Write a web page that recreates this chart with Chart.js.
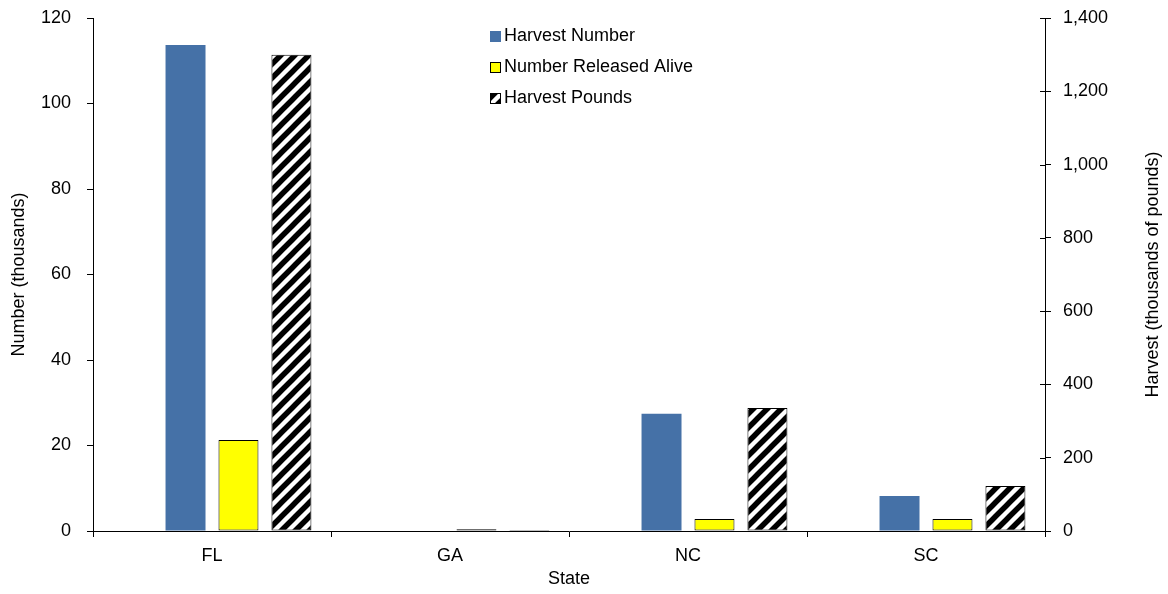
<!DOCTYPE html>
<html>
<head>
<meta charset="utf-8">
<script src="https://cdn.jsdelivr.net/npm/chart.js@4"></script>
<style>
  html, body { margin: 0; padding: 0; background: #fff; }
  #wrap { width: 1168px; height: 594px; }
</style>
</head>
<body>
<div id="wrap"><canvas id="myChart" width="1168" height="594"></canvas></div>
<script>
const states = ['FL', 'GA', 'NC', 'SC'];
const harvestNumber = [113.7, 0, 27.4, 8.2];      // thousands
const releasedAlive = [21.3, 0.4, 2.8, 2.8];      // thousands
const harvestPounds = [1300, 3, 336, 123];        // thousands of pounds
const leftTicks = [0, 20, 40, 60, 80, 100, 120];
const rightTicks = [0, 200, 400, 600, 800, 1000, 1200, 1400];
const rightTitle = 'Harvest (thousands of pounds)';

const FONT = "'Liberation Sans', Arial, sans-serif";
Chart.defaults.font.family = FONT;
Chart.defaults.font.size = 18;
Chart.defaults.color = '#000';

// diagonal hatch for the pounds series
function makeHatch() {
  const s = 14;
  const c = document.createElement('canvas');
  c.width = s; c.height = s;
  const g = c.getContext('2d');
  g.fillStyle = '#fff';
  g.fillRect(0, 0, s, s);
  g.strokeStyle = '#000';
  g.lineWidth = 5.5;
  g.beginPath();
  g.moveTo(-3, s + 3); g.lineTo(s + 3, -3);
  g.moveTo(-3, 3); g.lineTo(3, -3);
  g.moveTo(s - 3, s + 3); g.lineTo(s + 3, s - 3);
  g.stroke();
  return g.createPattern(c, 'repeat');
}
const hatch = makeHatch();

// legend list inside the plot, right-axis title reading upwards, inner ticks on right axis
const extrasPlugin = {
  id: 'extras',
  afterDraw(chart) {
    const ctx = chart.ctx;
    const rows = chart.data.datasets.filter(d => d.label);
    ctx.save();
    ctx.font = '18px ' + FONT;
    ctx.textBaseline = 'middle';
    rows.forEach((d, i) => {
      const y = 36 + i * 31;
      ctx.fillStyle = d.backgroundColor;
      ctx.fillRect(490, y - 5, 11, 11);
      if (d.borderWidth) {
        ctx.strokeStyle = '#000';
        ctx.lineWidth = 1;
        ctx.strokeRect(490.5, y - 4.5, 10, 10);
      }
      ctx.fillStyle = '#000';
      ctx.fillText(d.label, 504, y);
    });

    const y1 = chart.scales.y1;
    ctx.strokeStyle = '#000';
    ctx.lineWidth = 1;
    ctx.beginPath();
    rightTicks.forEach(v => {
      const py = Math.round(y1.getPixelForValue(v)) + 0.5;
      ctx.moveTo(y1.left - 5, py);
      ctx.lineTo(y1.left, py);
    });
    ctx.stroke();

    const area = chart.chartArea;
    ctx.translate(1153, (area.top + area.bottom) / 2);
    ctx.rotate(-Math.PI / 2);
    ctx.textAlign = 'center';
    ctx.fillText(rightTitle, 0, 0);
    ctx.restore();
  }
};

function fixVertical(width) {
  return scale => {
    scale.width = width;
    scale.paddingTop = 0;
    scale.paddingBottom = 0;
  };
}

const ctx = document.getElementById('myChart').getContext('2d');
const myChart = new Chart(ctx, {
  type: 'bar',
  data: {
    labels: states,
    datasets: [
      { label: '', data: states.map(() => null), yAxisID: 'y' },
      {
        label: 'Harvest Number',
        data: harvestNumber,
        backgroundColor: '#4571A7',
        borderWidth: 0,
        yAxisID: 'y'
      },
      {
        label: 'Number Released Alive',
        data: releasedAlive,
        backgroundColor: '#FFFF00',
        borderColor: '#000',
        borderWidth: 1,
        borderSkipped: false,
        yAxisID: 'y'
      },
      {
        label: 'Harvest Pounds',
        data: harvestPounds,
        backgroundColor: hatch,
        borderColor: '#000',
        borderWidth: 1,
        borderSkipped: false,
        yAxisID: 'y1'
      }
    ]
  },
  options: {
    responsive: false,
    animation: false,
    categoryPercentage: 0.89,
    barPercentage: 0.755,
    layout: { autoPadding: false, padding: { top: 18, left: 0, right: 0, bottom: 0 } },
    plugins: {
      legend: { display: false },
      tooltip: { enabled: false }
    },
    scales: {
      x: {
        grid: { drawOnChartArea: false, color: '#000', tickLength: 6, offset: true },
        border: { color: '#000', width: 1 },
        ticks: { padding: 8 },
        title: { display: true, text: 'State', font: { size: 18 }, padding: { top: 0, bottom: 4 } },
        afterFit(scale) { scale.height = 63; scale.paddingLeft = 0; scale.paddingRight = 0; }
      },
      y: {
        position: 'left',
        min: 0, max: 120,
        afterBuildTicks(scale) { scale.ticks = leftTicks.map(v => ({ value: v })); },
        grid: { drawOnChartArea: false, color: '#000', tickLength: 6 },
        border: { color: '#000', width: 1 },
        ticks: { padding: 16 },
        title: { display: true, text: 'Number (thousands)', font: { size: 18 }, padding: { top: 8, bottom: 0 } },
        afterFit: fixVertical(93)
      },
      y1: {
        position: 'right',
        min: 0, max: 1400,
        afterBuildTicks(scale) { scale.ticks = rightTicks.map(v => ({ value: v })); },
        grid: { drawOnChartArea: false, color: '#000', tickLength: 6 },
        border: { color: '#000', width: 1 },
        ticks: { padding: 12, callback: v => v.toLocaleString('en-US') },
        afterFit: fixVertical(123)
      }
    }
  },
  plugins: [extrasPlugin]
});
</script>
</body>
</html>
